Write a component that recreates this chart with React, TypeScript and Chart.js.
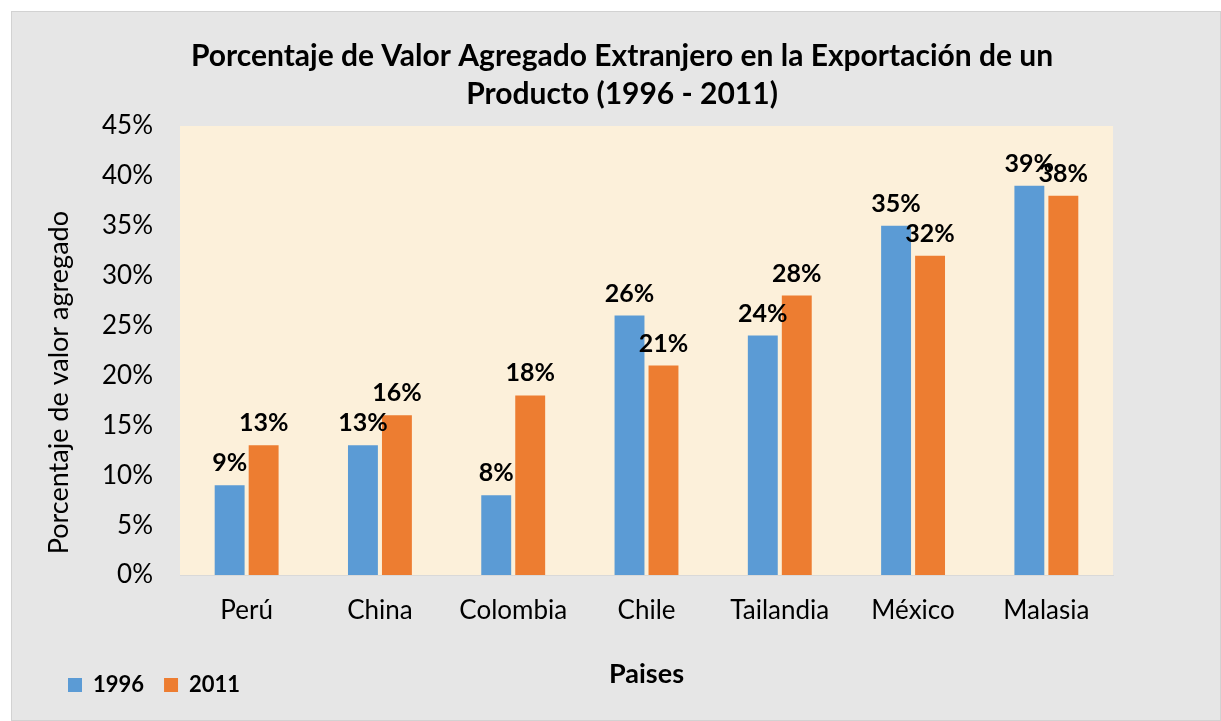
import React, { useEffect, useRef } from 'react';
import { Chart, registerables } from 'chart.js';

Chart.register(...registerables);

const categories = ['Perú', 'China', 'Colombia', 'Chile', 'Tailandia', 'México', 'Malasia'];
const values1996 = [9, 13, 8, 26, 24, 35, 39];
const values2011 = [13, 16, 18, 21, 28, 32, 38];
const seriesNames = ['1996', '2011'];
const seriesColors = ['#5B9BD5', '#ED7D31'];
const titleLines = ['Porcentaje de Valor Agregado Extranjero en la Exportación de un', 'Producto (1996 - 2011)'];
const yAxisTitle = 'Porcentaje de valor agregado';
const xAxisTitle = 'Paises';
const yMin = 0;
const yMax = 45;
const yStep = 5;

const FONT = 'Lato';

const backgroundPlugin = {
  id: 'bgPlugin',
  beforeDraw(chart: any) {
    const { ctx, chartArea, width, height } = chart;
    ctx.save();
    ctx.fillStyle = '#e6e6e6';
    ctx.fillRect(0, 0, width, height);
    ctx.strokeStyle = '#d2d2d2';
    ctx.lineWidth = 1;
    ctx.strokeRect(0.5, 0.5, width - 1, height - 1);
    ctx.fillStyle = '#fcf0da';
    ctx.fillRect(chartArea.left, chartArea.top, chartArea.right - chartArea.left, chartArea.bottom - chartArea.top);
    ctx.restore();
  },
};

const dataLabelPlugin = {
  id: 'dataLabels',
  afterDatasetsDraw(chart: any) {
    const { ctx } = chart;
    ctx.save();
    ctx.font = `bold 25px ${FONT}`;
    ctx.fillStyle = '#000';
    ctx.textAlign = 'center';
    ctx.textBaseline = 'middle';
    chart.data.datasets.forEach((ds: any, di: number) => {
      const meta = chart.getDatasetMeta(di);
      meta.data.forEach((el: any, i: number) => {
        ctx.fillText(`${ds.data[i]}%`, el.x, el.y - 22);
      });
    });
    ctx.restore();
  },
};

export default function App() {
  const ref = useRef<HTMLCanvasElement | null>(null);

  useEffect(() => {
    if (!ref.current) return;
    const chart = new Chart(ref.current, {
      type: 'bar',
      data: {
        labels: categories,
        datasets: [
          {
            label: seriesNames[0],
            data: values1996,
            backgroundColor: seriesColors[0],
            categoryPercentage: 0.51,
            barPercentage: 0.88,
          },
          {
            label: seriesNames[1],
            data: values2011,
            backgroundColor: seriesColors[1],
            categoryPercentage: 0.51,
            barPercentage: 0.88,
          },
        ],
      },
      options: {
        animation: false,
        responsive: false,
        devicePixelRatio: 1,
        layout: { padding: { left: 37, right: 25, top: 0, bottom: 15 } },
        plugins: {
          title: {
            display: true,
            text: titleLines,
            color: '#000',
            font: { family: FONT, size: 30, weight: 'bold', lineHeight: 38 / 30 },
            padding: { top: 26, bottom: 13 },
          },
          legend: {
            display: true,
            position: 'bottom',
            align: 'start',
            labels: {
              boxWidth: 14,
              boxHeight: 14,
              padding: 20,
              color: '#000',
              font: { family: FONT, size: 22, weight: 'bold' },
            },
          },
          tooltip: { enabled: false },
        },
        scales: {
          x: {
            grid: { display: false, drawTicks: false },
            border: { display: true, color: '#d9d9d9', width: 1 },
            ticks: {
              color: '#000',
              font: { family: FONT, size: 26 },
              padding: 20,
              maxRotation: 0,
              autoSkip: false,
            },
            title: {
              display: true,
              text: xAxisTitle,
              color: '#000',
              font: { family: FONT, size: 27, weight: 'bold', lineHeight: 1.2 },
              padding: { top: 0, bottom: -36 },
            },
            afterFit: (s: any) => {
              s.height = 79;
            },
          },
          y: {
            min: yMin,
            max: yMax,
            grid: { display: false, drawTicks: false },
            border: { display: false },
            ticks: {
              stepSize: yStep,
              color: '#000',
              font: { family: FONT, size: 26 },
              padding: 27,
              callback: (v: any) => `${v}%`,
            },
            title: {
              display: true,
              text: '   ' + yAxisTitle,
              align: 'start',
              color: '#000',
              font: { family: FONT, size: 27, lineHeight: 1.2 },
              padding: { top: -5, bottom: 0 },
            },
            afterFit: (s: any) => {
              s.width = 132;
            },
          },
          yR: {
            type: 'linear',
            position: 'right',
            display: true,
            grid: { display: false, drawTicks: false },
            border: { display: false },
            ticks: { display: false },
            afterFit: (s: any) => {
              s.width = 83;
            },
          },
        },
      } as any,
      plugins: [backgroundPlugin, dataLabelPlugin],
    });
    return () => chart.destroy();
  }, []);

  return (
    <div style={{ position: 'fixed', left: 11, top: 11, width: 1210, height: 710 }}>
      <canvas ref={ref} width={1210} height={710} style={{ display: 'block', width: 1210, height: 710 }} />
    </div>
  );
}
